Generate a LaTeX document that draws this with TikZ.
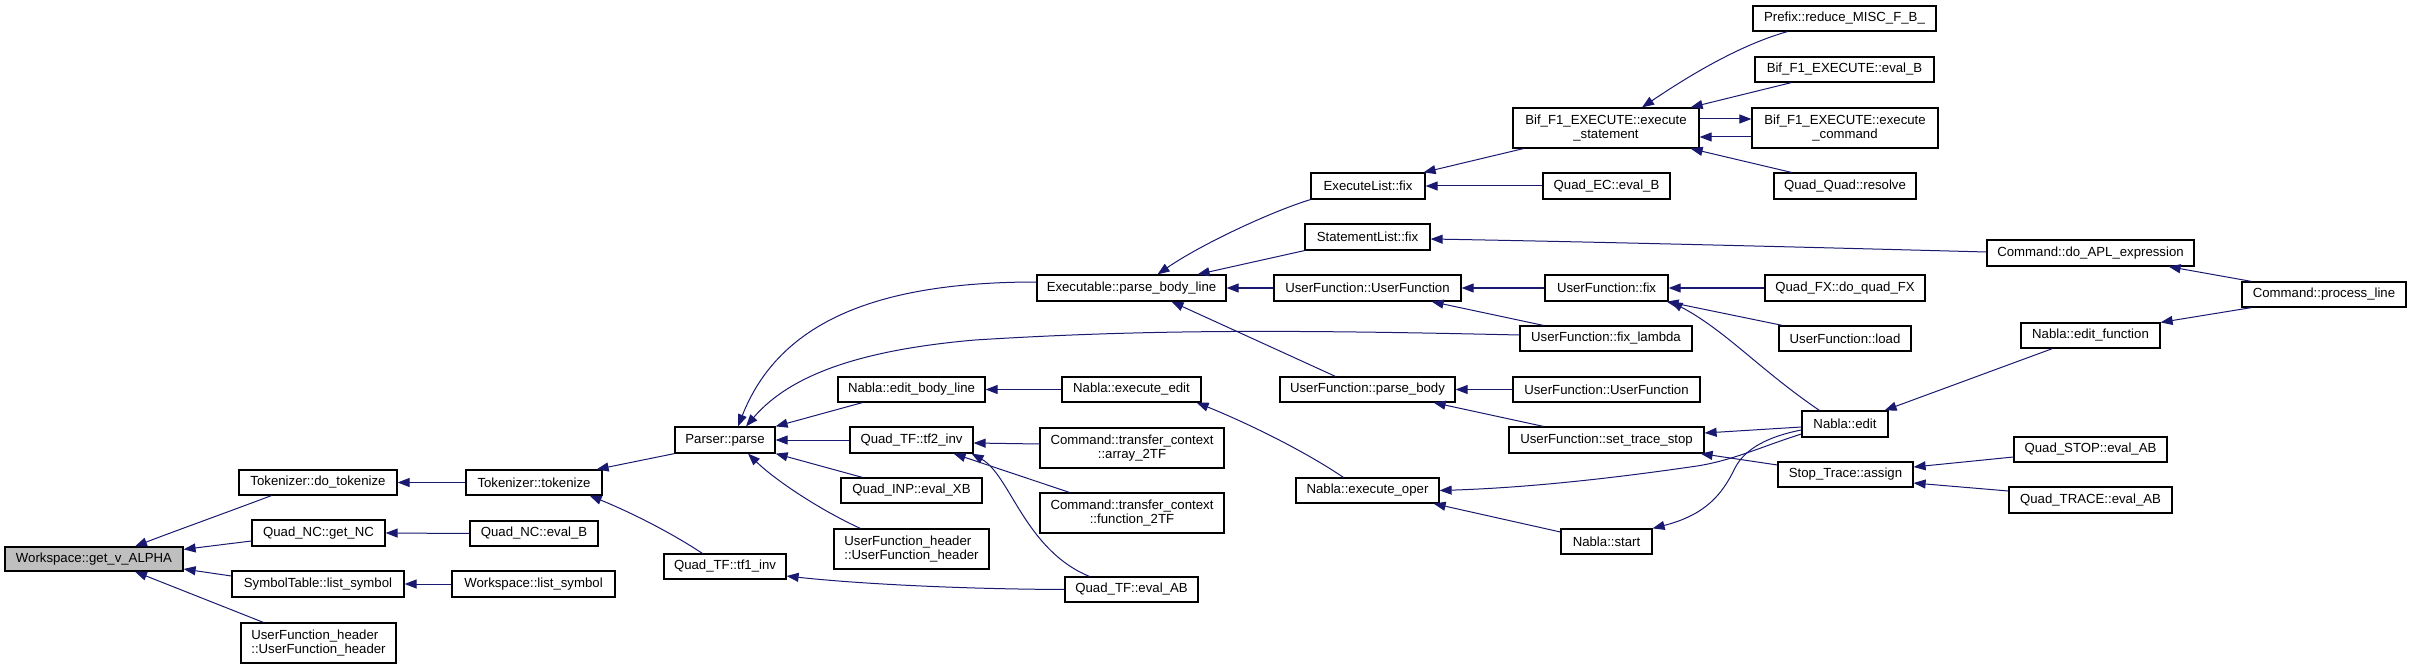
\documentclass[tikz,border=0pt]{standalone}
\usepackage{fontspec}
\setmainfont{Liberation Sans}
\usetikzlibrary{arrows.meta}
\definecolor{navy}{HTML}{191970}
\definecolor{graynode}{HTML}{BFBFBF}
\begin{document}
\begin{tikzpicture}[x=1pt,y=-1pt,
  nbox/.style={draw=black, line width=1.2pt, fill=white, inner sep=0pt, align=center,
    font=\fontsize{13.2}{14.5}\selectfont},
  conn/.style={draw=navy, line width=1pt, -{Triangle[length=12pt,width=9pt]}, fill=none},
]
\fill[white] (0,0) rectangle (2411,668);
\useasboundingbox (0,0) rectangle (2411,668);

% column 1
\node[nbox, fill=graynode, minimum width=178pt, minimum height=24pt] (wsget) at (94,559) {Workspace::get\_v\_ALPHA};
% column 2
\node[nbox, minimum width=158pt, minimum height=25pt] (tokdo) at (318,482.5) {Tokenizer::do\_tokenize};
\node[nbox, minimum width=133pt, minimum height=26pt] (ncget) at (318.5,533) {Quad\_NC::get\_NC};
\node[nbox, minimum width=172pt, minimum height=26pt] (stlist) at (318,584) {SymbolTable::list\_symbol};
\node[nbox, align=left, minimum width=155pt, minimum height=40pt] (ufhA) at (318.5,643) {UserFunction\_header\\::UserFunction\_header};
% column 3
\node[nbox, minimum width=136pt, minimum height=25pt] (toktok) at (534,482.5) {Tokenizer::tokenize};
\node[nbox, minimum width=128pt, minimum height=25pt] (ncevb) at (534,533.5) {Quad\_NC::eval\_B};
\node[nbox, minimum width=163pt, minimum height=26pt] (wslist) at (533.5,584) {Workspace::list\_symbol};
% column 4
\node[nbox, minimum width=100pt, minimum height=26pt] (parse) at (725,440) {Parser::parse};
\node[nbox, minimum width=122pt, minimum height=25pt] (tfone) at (725,566.5) {Quad\_TF::tf1\_inv};
% column 5
\node[nbox, minimum width=147pt, minimum height=25pt] (ebl) at (911.5,389.5) {Nabla::edit\_body\_line};
\node[nbox, minimum width=123pt, minimum height=26pt] (tftwo) at (911.5,440) {Quad\_TF::tf2\_inv};
\node[nbox, minimum width=141pt, minimum height=25pt] (inp) at (911.5,490.5) {Quad\_INP::eval\_XB};
\node[nbox, align=left, minimum width=155pt, minimum height=40pt] (ufhB) at (911.5,549) {UserFunction\_header\\::UserFunction\_header};
% column 6
\node[nbox, minimum width=189pt, minimum height=26pt] (pbl) at (1131.5,288) {Executable::parse\_body\_line};
\node[nbox, minimum width=139pt, minimum height=25pt] (nee) at (1131.5,389.5) {Nabla::execute\_edit};
\node[nbox, minimum width=184pt, minimum height=40pt] (arr) at (1132,448) {Command::transfer\_context\\::array\_2TF};
\node[nbox, minimum width=184pt, minimum height=40pt] (fun) at (1132,513) {Command::transfer\_context\\::function\_2TF};
\node[nbox, minimum width=133pt, minimum height=25pt] (tfev) at (1131.5,589.5) {Quad\_TF::eval\_AB};
% column 7
\node[nbox, minimum width=114pt, minimum height=26pt] (elfix) at (1368,186) {ExecuteList::fix};
\node[nbox, minimum width=125pt, minimum height=26pt] (slfix) at (1367.5,237) {StatementList::fix};
\node[nbox, minimum width=187pt, minimum height=26pt] (ufufA) at (1367.5,288) {UserFunction::UserFunction};
\node[nbox, minimum width=175pt, minimum height=25pt] (ufpb) at (1367.5,389.5) {UserFunction::parse\_body};
\node[nbox, minimum width=143pt, minimum height=25pt] (neo) at (1367.5,490.5) {Nabla::execute\_oper};
% column 8
\node[nbox, minimum width=186pt, minimum height=40pt] (bes) at (1606,128) {Bif\_F1\_EXECUTE::execute\\\_statement};
\node[nbox, minimum width=127pt, minimum height=26pt] (qec) at (1606.5,186) {Quad\_EC::eval\_B};
\node[nbox, minimum width=123pt, minimum height=26pt] (uffix) at (1606.5,288) {UserFunction::fix};
\node[nbox, minimum width=172pt, minimum height=25pt] (uffl) at (1606,338.5) {UserFunction::fix\_lambda};
\node[nbox, minimum width=187pt, minimum height=25pt] (ufufB) at (1606.5,389.5) {UserFunction::UserFunction};
\node[nbox, minimum width=195pt, minimum height=26pt] (ufsts) at (1606.5,440) {UserFunction::set\_trace\_stop};
\node[nbox, minimum width=91pt, minimum height=25pt] (nst) at (1606.5,541.5) {Nabla::start};
% column 9
\node[nbox, minimum width=183pt, minimum height=25pt] (prefix) at (1844.5,18.5) {Prefix::reduce\_MISC\_F\_B\_};
\node[nbox, minimum width=179pt, minimum height=25pt] (bev) at (1844.5,69.5) {Bif\_F1\_EXECUTE::eval\_B};
\node[nbox, minimum width=186pt, minimum height=40pt] (bec) at (1845,128) {Bif\_F1\_EXECUTE::execute\\\_command};
\node[nbox, minimum width=142pt, minimum height=26pt] (qqr) at (1845,186) {Quad\_Quad::resolve};
\node[nbox, minimum width=160pt, minimum height=26pt] (qfx) at (1845,288) {Quad\_FX::do\_quad\_FX};
\node[nbox, minimum width=132pt, minimum height=25pt] (ufload) at (1845,338.5) {UserFunction::load};
\node[nbox, minimum width=86pt, minimum height=26pt] (nedit) at (1845,424) {Nabla::edit};
\node[nbox, minimum width=135pt, minimum height=25pt] (sta) at (1845.5,474.5) {Stop\_Trace::assign};
% column 10
\node[nbox, minimum width=207pt, minimum height=26pt] (doapl) at (2090.5,253) {Command::do\_APL\_expression};
\node[nbox, minimum width=139pt, minimum height=25pt] (nef) at (2090.5,335.5) {Nabla::edit\_function};
\node[nbox, minimum width=153pt, minimum height=25pt] (qstop) at (2090.5,449.5) {Quad\_STOP::eval\_AB};
\node[nbox, minimum width=163pt, minimum height=26pt] (qtrace) at (2090.5,500) {Quad\_TRACE::eval\_AB};
% column 11
\node[nbox, minimum width=164pt, minimum height=25pt] (cpl) at (2324,294.5) {Command::process\_line};

% connectors (arrowhead at callee)
\draw[conn] ([xshift=33pt]tokdo.south west) .. controls (228,512) and (175,531) .. ([xshift=41pt]wsget.north);
\draw[conn] ([yshift=-8pt]ncget.west) -- ([yshift=-3pt]wsget.north east);
\draw[conn] ([yshift=8pt]stlist.west) -- ([yshift=-10pt]wsget.east);
\draw[conn] ([xshift=23pt]ufhA.north west) -- ([xshift=41pt]wsget.south);
\draw[conn] (toktok.west) -- (tokdo.east);
\draw[conn] (ncevb.west) -- (ncget.east);
\draw[conn] (wslist.west) -- (stlist.east);
\draw[conn] (parse.south west) -- ([xshift=-6pt]toktok.north east);
\draw[conn] ([xshift=39pt]tfone.north west) .. controls (670,532) and (630,512) .. ([xshift=-13pt]toktok.south east);
\draw[conn] ([yshift=6pt]pbl.west) .. controls (880,282) and (780,320) .. ([xshift=13pt]parse.north);
\draw[conn] ([yshift=3.5pt]uffl.west) .. controls (1300,330) and (1150,329) .. (975,340) .. controls (860,350) and (790,375) .. ([xshift=21pt]parse.north);
\draw[conn] ([xshift=25pt]ebl.south west) -- (parse.north east);
\draw[conn] (tftwo.west) -- (parse.east);
\draw[conn] ([xshift=22pt]inp.north west) -- (parse.south east);
\draw[conn] ([xshift=27pt]ufhB.north west) .. controls (820,510) and (775,480) .. ([xshift=23pt]parse.south);
\draw[conn] (nee.west) -- (ebl.east);
\draw[conn] ([yshift=4pt]arr.west) -- ([yshift=-3pt]tftwo.east);
\draw[conn] ([xshift=30pt]fun.north west) -- ([xshift=-20pt]tftwo.south east);
\draw[conn] ([xshift=25pt]tfev.north west) .. controls (1025,550) and (1010,475) .. ([xshift=-2pt]tftwo.south east);
\draw[conn] (tfev.west) .. controls (950,589) and (850,583) .. ([yshift=-9.5pt]tfone.east);
\draw[conn] (elfix.south west) .. controls (1270,212) and (1200,245) .. ([xshift=26pt]pbl.north);
\draw[conn] (slfix.south west) -- ([xshift=-29pt]pbl.north east);
\draw[conn] (ufufA.west) -- (pbl.east);
\draw[conn] ([xshift=56pt]ufpb.north west) -- ([xshift=40pt]pbl.south);
\draw[conn] ([xshift=11pt]bes.south west) -- ([xshift=-2pt]elfix.north east);
\draw[conn] (qec.west) -- (elfix.east);
\draw[conn] ([xshift=35pt]prefix.south west) .. controls (1740,45) and (1690,75) .. ([xshift=36pt]bes.north);
\draw[conn] ([xshift=37pt]bev.south west) -- ([xshift=-9pt]bes.north east);
\draw[conn] ([yshift=9pt]bes.east) -- ([yshift=9pt]bec.west);
\draw[conn] ([yshift=-9pt]bec.west) -- ([yshift=-9pt]bes.east);
\draw[conn] ([xshift=18pt]qqr.north west) -- ([xshift=-9pt]bes.south east);
\draw[conn] ([yshift=1pt]doapl.west) .. controls (1800,247) and (1600,242) .. ([yshift=-2pt]slfix.east);
\draw[conn] (uffix.west) -- (ufufA.east);
\draw[conn] ([xshift=24pt]uffl.north west) -- ([xshift=-30pt]ufufA.south east);
\draw[conn] (qfx.west) -- (uffix.east);
\draw[conn] ([xshift=4pt]ufload.north west) -- ([xshift=-2pt]uffix.south east);
\draw[conn] ([xshift=18pt]nedit.north west) .. controls (1760,370) and (1725,330) .. ([xshift=2pt]uffix.south east);
\draw[conn] ([xshift=10pt]cpl.south west) -- (nef.north east);
\draw[conn] ([xshift=10pt]cpl.north west) -- ([xshift=-26pt]doapl.south east);
\draw[conn] ([xshift=32pt]nef.south west) -- ([xshift=-4pt]nedit.north east);
\draw[conn] ([yshift=-3pt]nedit.west) -- ([yshift=7pt]ufsts.east);
\draw[conn] (ufufB.west) -- (ufpb.east);
\draw[conn] ([xshift=35pt]ufsts.north west) -- ([xshift=-22pt]ufpb.south east);
\draw[conn] ([yshift=9.5pt]sta.west) -- ([xshift=-4pt]ufsts.south east);
\draw[conn] ([yshift=-7.5pt]qstop.west) -- ([yshift=7.5pt]sta.east);
\draw[conn] ([yshift=9pt]qtrace.west) -- ([yshift=-8.5pt]sta.east);
\draw[conn] ([yshift=-10pt]nedit.west) .. controls (1760,447) and (1730,462) .. (1690,467) .. controls (1600,480) and (1520,488) .. (neo.east);
\draw[conn] ([yshift=-6pt]nedit.west) .. controls (1770,436) and (1745,448) .. (1735,468) .. controls (1722,495) and (1705,515) .. (nst.north east);
\draw[conn] ([yshift=9.5pt]nst.west) -- ([xshift=-6pt]neo.south east);
\draw[conn] ([xshift=48pt]neo.north west) .. controls (1300,448) and (1240,420) .. ([xshift=-5pt]nee.south east);
\end{tikzpicture}
\end{document}
